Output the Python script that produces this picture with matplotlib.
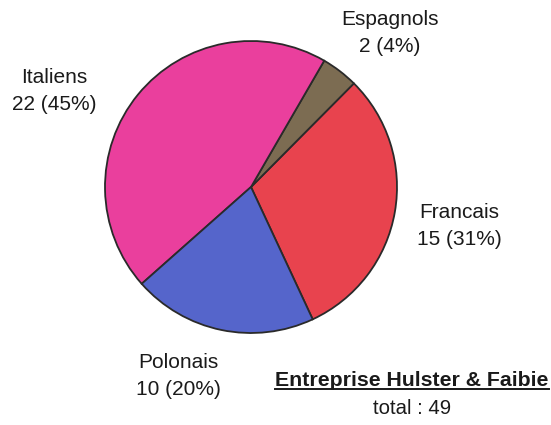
import matplotlib
matplotlib.use("Agg")
import matplotlib.pyplot as plt
from matplotlib.lines import Line2D

plt.rcParams['font.family'] = ['Liberation Sans', 'DejaVu Sans']

# Staff by nationality
categories = ["Francais", "Espagnols", "Italiens", "Polonais"]
values = [15, 2, 22, 10]
colors = ["#E8434E", "#7C6C52", "#EA3F9D", "#5565CB"]
title = "Entreprise Hulster & Faibie"
total = sum(values)

W, H = 551, 425
fig = plt.figure(figsize=(W / 100, H / 100), dpi=100)
ax = fig.add_axes([0, 0, 1, 1])
ax.set_xlim(0, W)
ax.set_ylim(0, H)
ax.set_aspect('equal')
ax.axis('off')

wedges, _ = ax.pie(values, colors=colors, startangle=-65, counterclock=True,
                   center=(251, H - 187), radius=146,
                   wedgeprops=dict(edgecolor="#2a2a2a", linewidth=1.3))
ax.set_xlim(0, W)
ax.set_ylim(0, H)

label_pos = {
    "Francais": (459, 226),
    "Espagnols": (390, 33),
    "Italiens": (54, 91),
    "Polonais": (178, 376),
}
for name, v in zip(categories, values):
    pct = round(100 * v / total)
    x, y = label_pos[name]
    fig.text(x / W, 1 - y / H, f"{name}\n{v} ({pct}%)", ha='center', va='center',
             fontsize=15, linespacing=1.55, color="#1a1a1a")

t = fig.text(412 / W, 1 - 380 / H, title, ha='center', va='center',
             fontsize=15.3, fontweight='bold', color="#1a1a1a")
fig.text(412 / W, 1 - 408 / H, f"total : {total}", ha='center', va='center',
         fontsize=14.7, color="#1a1a1a")

# underline the title
fig.canvas.draw()
bb = t.get_window_extent(fig.canvas.get_renderer())
yl = (bb.y0 + 1) / H
fig.add_artist(Line2D([bb.x0 / W, bb.x1 / W], [yl, yl], color="#1a1a1a", linewidth=1.4,
                      transform=fig.transFigure))

fig.savefig("out.png", dpi=100)
